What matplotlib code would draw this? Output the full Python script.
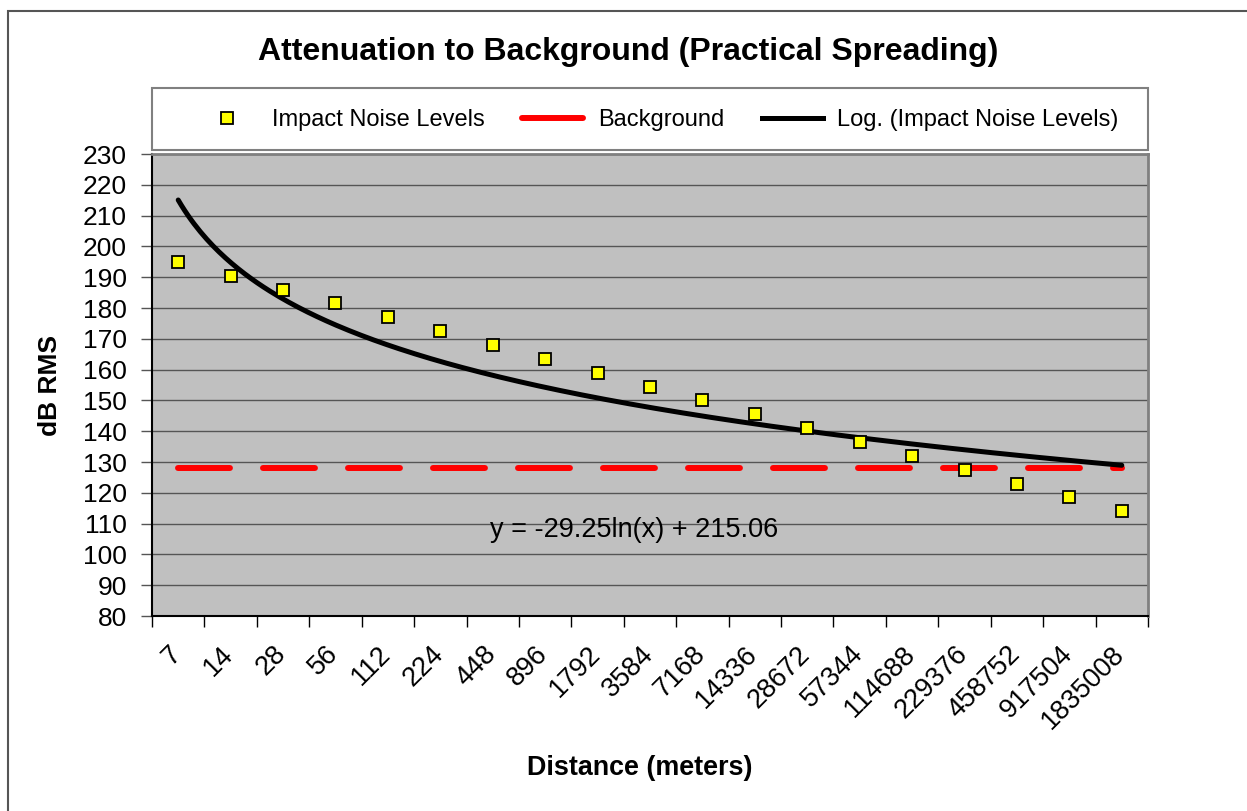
import numpy as np
import matplotlib
matplotlib.use("Agg")
from matplotlib import pyplot as plt
from matplotlib.lines import Line2D
from matplotlib.patches import Rectangle

plt.rcParams['font.family'] = ['Liberation Sans', 'DejaVu Sans']

# data
distances = ["7", "14", "28", "56", "112", "224", "448", "896", "1792", "3584",
             "7168", "14336", "28672", "57344", "114688", "229376", "458752",
             "917504", "1835008"]
impact_levels = [195.0, 190.5, 186.0, 181.5, 177.0, 172.5, 168.0, 163.5, 159.0,
                 154.5, 150.0, 145.5, 141.0, 136.5, 132.0, 127.5, 123.0, 118.5, 114.0]
background = [128] * len(distances)

W, H = 1247, 811
fig = plt.figure(figsize=(W / 100, H / 100), dpi=100)

# outer chart border (only top/left visible)
fig.patches.append(Rectangle((8 / W, -0.1), 1.2, (H - 11) / H + 0.1, transform=fig.transFigure,
                             facecolor='none', edgecolor='#555555', lw=1.5, zorder=-1))

ax = fig.add_axes([152 / W, (H - 616) / H, 996 / W, 462 / H])
ax.set_facecolor('#c0c0c0')

x = np.arange(1, len(distances) + 1)

# logarithmic trendline (Excel style, fitted on category index)
a, b = np.polyfit(np.log(x), impact_levels, 1)
xs = np.linspace(1, len(distances), 300)
ax.plot(xs, a * np.log(xs) + b, color='black', lw=3.6, zorder=3,
        solid_capstyle='round')

bg, = ax.plot(x, background, color='#ff0000', lw=4.3, zorder=2,
              dash_capstyle='round')
bg.set_dashes((37.4 / 4.3, 23.8 / 4.3))

ax.plot(x, impact_levels, ls='none', marker='s', ms=9, mfc='#ffff00',
        mec='black', mew=1.3, zorder=4)

ax.text(9.7, 107.9, "y = -29.25ln(x) + 215.06", fontsize=19.5, ha='center', va='center')

ax.set_xlim(0.5, len(distances) + 0.5)
ax.set_ylim(80, 230)
ax.set_yticks(np.arange(80, 231, 10))
ax.yaxis.grid(True, color='#555555', lw=1)
ax.set_axisbelow(True)
ax.tick_params(axis='y', labelsize=19, length=8, width=1, color='#555555', pad=10)

ax.set_xticks(np.arange(0.5, len(distances) + 1, 1))
ax.set_xticklabels([])
ax.tick_params(axis='x', length=8, width=1, color='black')
for i, lab in enumerate(distances):
    ax.annotate(lab, xy=(i + 1, 0), xycoords=('data', 'axes fraction'),
                xytext=(6, -18), textcoords='offset points', rotation=45,
                ha='right', va='top', fontsize=19.5)

for s in ['left', 'bottom']:
    ax.spines[s].set_color('black')
    ax.spines[s].set_linewidth(1.5)
for s in ['top', 'right']:
    ax.spines[s].set_color('#808080')
    ax.spines[s].set_linewidth(2)

ax.set_ylabel("dB RMS", fontsize=19, fontweight='bold', labelpad=15)
fig.text(640 / W, 1 - 768 / H, "Distance (meters)", fontsize=19.4, fontweight='bold',
         ha='center', va='center')
fig.text(628 / W, 1 - 52 / H, "Attenuation to Background (Practical Spreading)",
         fontsize=23, fontweight='bold', ha='center', va='center')

# legend box
fig.patches.append(Rectangle((152 / W, (H - 150) / H), 996 / W, 62 / H,
                             transform=fig.transFigure, facecolor='white',
                             edgecolor='#808080', lw=1.5, zorder=-1))
handles = [
    Line2D([], [], ls='none', marker='s', ms=9, mfc='#ffff00', mec='black', mew=1.3),
    Line2D([], [], color='#ff0000', lw=4.3, solid_capstyle='round'),
    Line2D([], [], color='black', lw=3.6),
]
fig.legend(handles, ["Impact Noise Levels", "Background", "Log. (Impact Noise Levels)"],
           loc='center left', bbox_to_anchor=(196 / W, 1 - 120 / H), ncol=3,
           frameon=False, fontsize=17, handlelength=2.6, handletextpad=0.6,
           columnspacing=1.6, borderpad=0, borderaxespad=0)

fig.savefig("out.png", dpi=100)
